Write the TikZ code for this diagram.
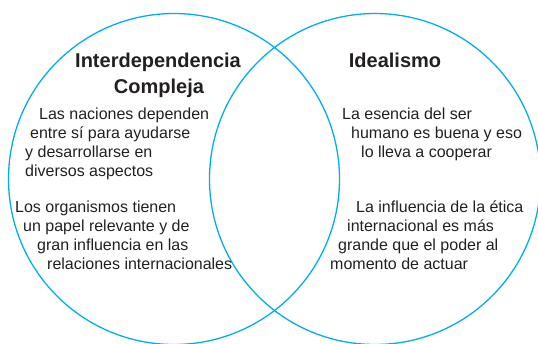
\documentclass[tikz,border=0pt]{standalone}
\usepackage{fontspec}
\setmainfont{Liberation Sans}
\usepackage{tikz}
\usetikzlibrary{positioning}
\definecolor{vennblue}{RGB}{0,174,239}
\definecolor{inkgray}{RGB}{35,31,32}

\begin{document}
\begin{tikzpicture}[x=1pt,y=-1pt,
    set/.style={circle,draw=vennblue,line width=1.3pt,minimum size=331pt,inner sep=0pt},
    heading/.style={font=\fontsize{20}{26}\selectfont\bfseries,text=inkgray,anchor=base,inner sep=0pt},
    txt/.style={font=\fontsize{16}{19}\selectfont,text=inkgray,anchor=base west,inner sep=0pt}]
  \useasboundingbox (0,0) rectangle (538,343);

  % the two sets
  \node[set] (interdep) at (174,179) {};
  \node[set] (ideal)    at (375,179) {};

  % headings
  \node[heading] (h1a) at (158,67.6) {Interdependencia};
  \node[heading] (h1b) at (159,93.6) {Compleja};
  \node[heading] (h2)  at (395,67.6) {Idealismo};

  % left set
  \node[txt] (l1) at (39,119)   {Las naciones dependen};
  \node[txt] (l2) at (30,138.3) {entre sí para ayudarse};
  \node[txt] (l3) at (25,157.6) {y desarrollarse en};
  \node[txt] (l4) at (25,176.9) {diversos aspectos};

  \node[txt] (l5) at (15,212)   {Los organismos tienen};
  \node[txt] (l6) at (23,231.3) {un papel relevante y de};
  \node[txt] (l7) at (37,250.6) {gran influencia en las};
  \node[txt] (l8) at (47,269.9) {relaciones internacionales};

  % right set
  \node[txt] (r1) at (342,119)   {La esencia del ser};
  \node[txt] (r2) at (351,138.3) {humano es buena y eso};
  \node[txt] (r3) at (361,157.6) {lo lleva a cooperar};

  \node[txt] (r4) at (356,212)   {La influencia de la ética};
  \node[txt] (r5) at (347,231.3) {internacional es más};
  \node[txt] (r6) at (338,250.6) {grande que el poder al};
  \node[txt] (r7) at (330,269.9) {momento de actuar};
\end{tikzpicture}
\end{document}
